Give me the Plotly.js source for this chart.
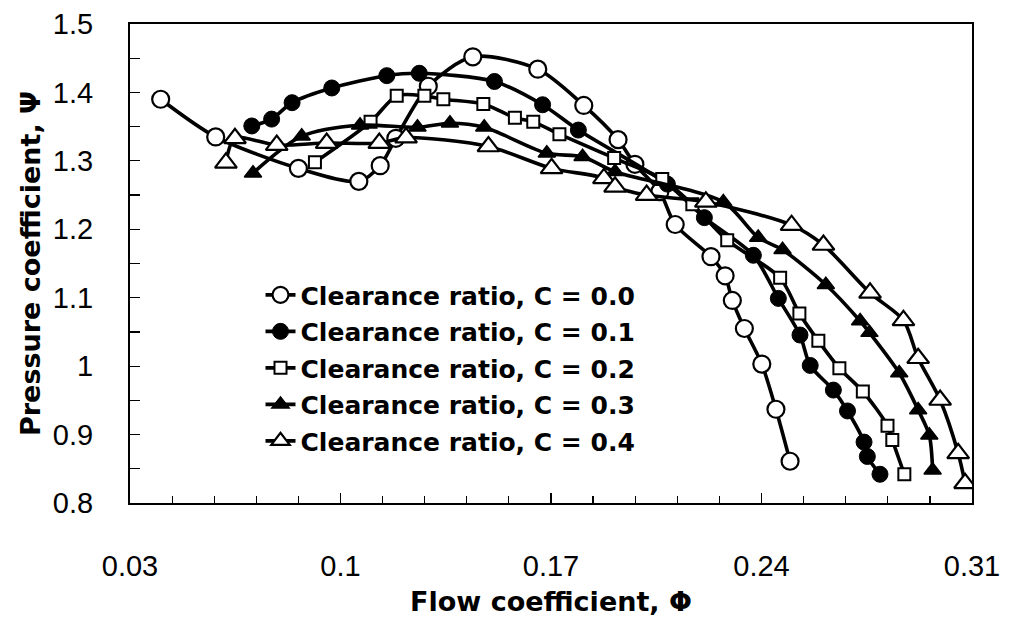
<!DOCTYPE html>
<html>
<head>
<meta charset="utf-8">
<script src="https://cdn.plot.ly/plotly-3.0.1.min.js"></script>
<style>html,body{margin:0;padding:0;background:#fff}#chart{width:1010px;height:623px}</style>
</head>
<body>
<div id="chart"></div>
<script>
// Flow coefficient (Phi) and pressure coefficient (Psi) per clearance ratio
const phiC00 = [0.0402,0.0585,0.0860,0.1061,0.1132,0.1184,0.1292,0.1440,0.1656,0.1809,0.1923,0.1979,0.2062,0.2113,0.2232,0.2279,0.2303,0.2343,0.2401,0.2448,0.2495];
const psiC00 = [1.390,1.335,1.289,1.270,1.293,1.333,1.409,1.452,1.434,1.381,1.331,1.295,1.255,1.207,1.160,1.132,1.096,1.055,1.003,0.937,0.861];

const phiC01 = [0.0705,0.0771,0.0839,0.0971,0.1154,0.1262,0.1512,0.1672,0.1791,0.2087,0.2210,0.2373,0.2456,0.2528,0.2562,0.2639,0.2686,0.2741,0.2752,0.2794];
const psiC01 = [1.351,1.361,1.385,1.4065,1.4245,1.428,1.416,1.382,1.345,1.266,1.217,1.162,1.099,1.0455,1.001,0.965,0.9345,0.889,0.868,0.842];

const phiC02 = [0.0915,0.1100,0.1187,0.1279,0.1342,0.1475,0.1580,0.1641,0.1728,0.1910,0.2070,0.2170,0.2286,0.2462,0.2526,0.2589,0.2659,0.2737,0.2819,0.2835,0.2875];
const psiC02 = [1.298,1.357,1.395,1.395,1.390,1.383,1.363,1.357,1.339,1.304,1.2735,1.2365,1.184,1.129,1.077,1.037,0.997,0.963,0.913,0.892,0.842];

const phiC03 = [0.0709,0.0871,0.1065,0.1256,0.1364,0.1478,0.1686,0.1805,0.1913,0.2273,0.2389,0.2470,0.2614,0.2728,0.2759,0.2858,0.2921,0.2958,0.2969];
const psiC03 = [1.282,1.336,1.352,1.349,1.355,1.349,1.311,1.306,1.284,1.240,1.188,1.170,1.119,1.066,1.049,0.990,0.936,0.899,0.848];

const phiC04 = [0.0619,0.0649,0.0788,0.0954,0.1129,0.1218,0.1492,0.1702,0.1876,0.1913,0.2018,0.2215,0.2500,0.2606,0.2761,0.2872,0.2921,0.2994,0.3054,0.3077];
const psiC04 = [1.297,1.333,1.323,1.326,1.326,1.334,1.321,1.289,1.2745,1.262,1.250,1.240,1.206,1.177,1.107,1.067,1.0115,0.9505,0.8726,0.8288];

const seriesNames = ["Clearance ratio, C = 0.0","Clearance ratio, C = 0.1","Clearance ratio, C = 0.2","Clearance ratio, C = 0.3","Clearance ratio, C = 0.4"];
const xTickVals = [0.03,0.10,0.17,0.24,0.31];
const xTickText = ["0.03","0.1","0.17","0.24","0.31"];
const yTickVals = [0.8,0.9,1.0,1.1,1.2,1.3,1.4,1.5];
const yTickText = ["0.8","0.9","1","1.1","1.2","1.3","1.4","1.5"];

const xs = [phiC00,phiC01,phiC02,phiC03,phiC04];
const ys = [psiC00,psiC01,psiC02,psiC03,psiC04];
const markerStyles = [
  {symbol:'circle', size:17, color:'#ffffff', line:{color:'#000',width:2.2}},
  {symbol:'circle', size:16, color:'#000000', line:{color:'#000',width:1}},
  {symbol:'square', size:12, color:'#ffffff', line:{color:'#000',width:2}},
  {symbol:'triangle-up', size:15, color:'#000000', line:{color:'#000',width:1.5}},
  {symbol:'triangle-up', size:19, color:'#ffffff', line:{color:'#000',width:2.2}}
];

const traces = xs.map((x,i)=>({
  x:x, y:ys[i], name:seriesNames[i], type:'scatter', mode:'lines+markers',
  legendgroup:'g'+i,
  line:{color:'#000', width:3.6, shape:'spline', smoothing:0.8},
  marker:markerStyles[i]
}));

const tickFont = {family:'"Liberation Sans", Arial, sans-serif', size:29, color:'#000'};
const titleFont = {family:'"DejaVu Sans", sans-serif', size:27, color:'#000', weight:'bold'};

const layout = {
  width:1010, height:623,
  margin:{l:130, r:38, t:24, b:120},
  paper_bgcolor:'#fff', plot_bgcolor:'#fff',
  showlegend:true,
  legend:{x:0.155, xanchor:'left', y:0.482, yanchor:'top', bgcolor:'rgba(0,0,0,0)',
    font:{family:'"DejaVu Sans", sans-serif', size:25, color:'#000', weight:'bold'},
    tracegroupgap:1, itemwidth:30},
  xaxis:{range:[0.03,0.31], tickvals:xTickVals, ticktext:xTickText,
    ticks:'inside', ticklen:10, tickwidth:1.2, tickcolor:'#000',
    minor:{dtick:0.014, tick0:0.03, ticks:'inside', ticklen:7, tickwidth:1.2, tickcolor:'#000', showgrid:false},
    showline:true, linecolor:'#000', linewidth:2, mirror:true, showgrid:false, zeroline:false,
    tickfont:tickFont, ticklabelstandoff:36,
    title:{text:'Flow coefficient, Φ', font:titleFont, standoff:11}},
  yaxis:{range:[0.8,1.5], tickvals:yTickVals, ticktext:yTickText,
    ticks:'inside', ticklen:10, tickwidth:1.2, tickcolor:'#000',
    minor:{dtick:0.05, tick0:0.8, ticks:'inside', ticklen:10, tickwidth:1.2, tickcolor:'#000', showgrid:false},
    showline:true, linecolor:'#000', linewidth:2, mirror:true, showgrid:false, zeroline:false,
    tickfont:tickFont, ticklabelstandoff:29,
    title:{text:'Pressure coefficient, Ψ', font:titleFont, standoff:4}}
};

Plotly.newPlot('chart', traces, layout, {staticPlot:true, displayModeBar:false});
</script>
</body>
</html>
